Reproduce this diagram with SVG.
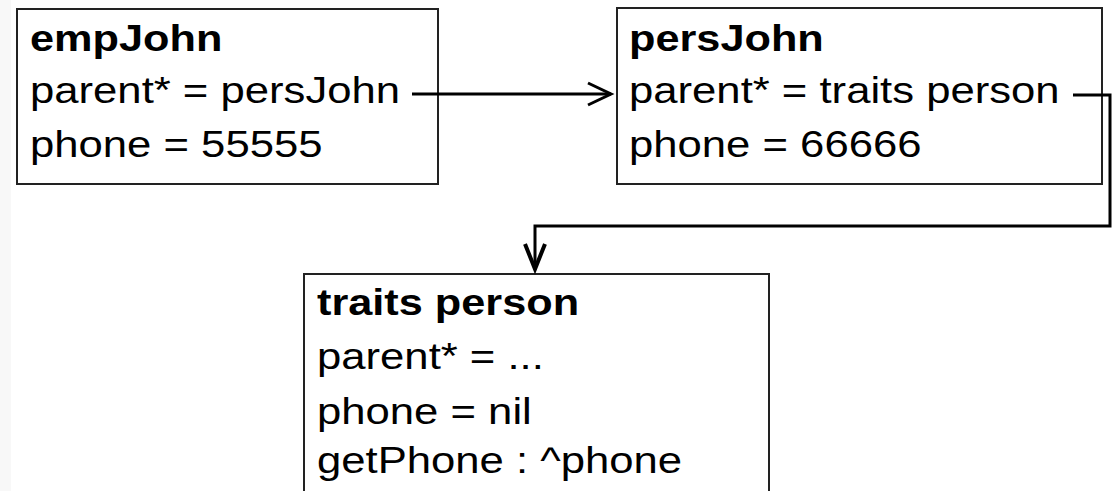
<svg xmlns="http://www.w3.org/2000/svg" width="1113" height="491" viewBox="0 0 1113 491">
<style>
.box{fill:#fff;stroke:#222;stroke-width:2}
.t{font-family:"Liberation Sans",Arial,sans-serif;font-size:37px;fill:#000}
.b{font-weight:bold}
.c{fill:none;stroke:#000;stroke-width:3}
</style>
<rect x="0" y="0" width="1113" height="491" fill="#fff"/>
<rect x="0" y="0" width="11" height="491" fill="#f8f8f8"/>
<g id="empJohn">
<rect class="box" x="17" y="9" width="421" height="175"/>
<text class="t b" transform="translate(30 51) scale(1.17 1)">empJohn</text>
<text class="t" transform="translate(30 103) scale(1.18 1)">parent* = persJohn</text>
<text class="t" transform="translate(30 157) scale(1.18 1)">phone = 55555</text>
</g>
<g id="persJohn">
<rect class="box" x="617" y="8" width="485" height="176"/>
<text class="t b" transform="translate(629 51) scale(1.17 1)">persJohn</text>
<text class="t" transform="translate(629 103) scale(1.18 1)">parent* = traits person</text>
<text class="t" transform="translate(629 157) scale(1.18 1)">phone = 66666</text>
</g>
<g id="traitsPerson">
<rect class="box" x="304" y="274" width="465" height="230"/>
<text class="t b" transform="translate(317 315) scale(1.17 1)">traits person</text>
<text class="t" transform="translate(317 369) scale(1.18 1)">parent* = ...</text>
<text class="t" transform="translate(317 424) scale(1.18 1)">phone = nil</text>
<text class="t" transform="translate(317 473) scale(1.18 1)">getPhone : ^phone</text>
</g>
<g id="connectors">
<path class="c" d="M412 94 H611"/>
<path d="M588 83 L611 94 L588 105" fill="none" stroke="#000" stroke-width="3"/>
<path class="c" d="M1073 95 H1110 V226 H535 V268"/>
<path d="M525 244 L535 269 L545 244" fill="none" stroke="#000" stroke-width="4"/>
</g>
</svg>
